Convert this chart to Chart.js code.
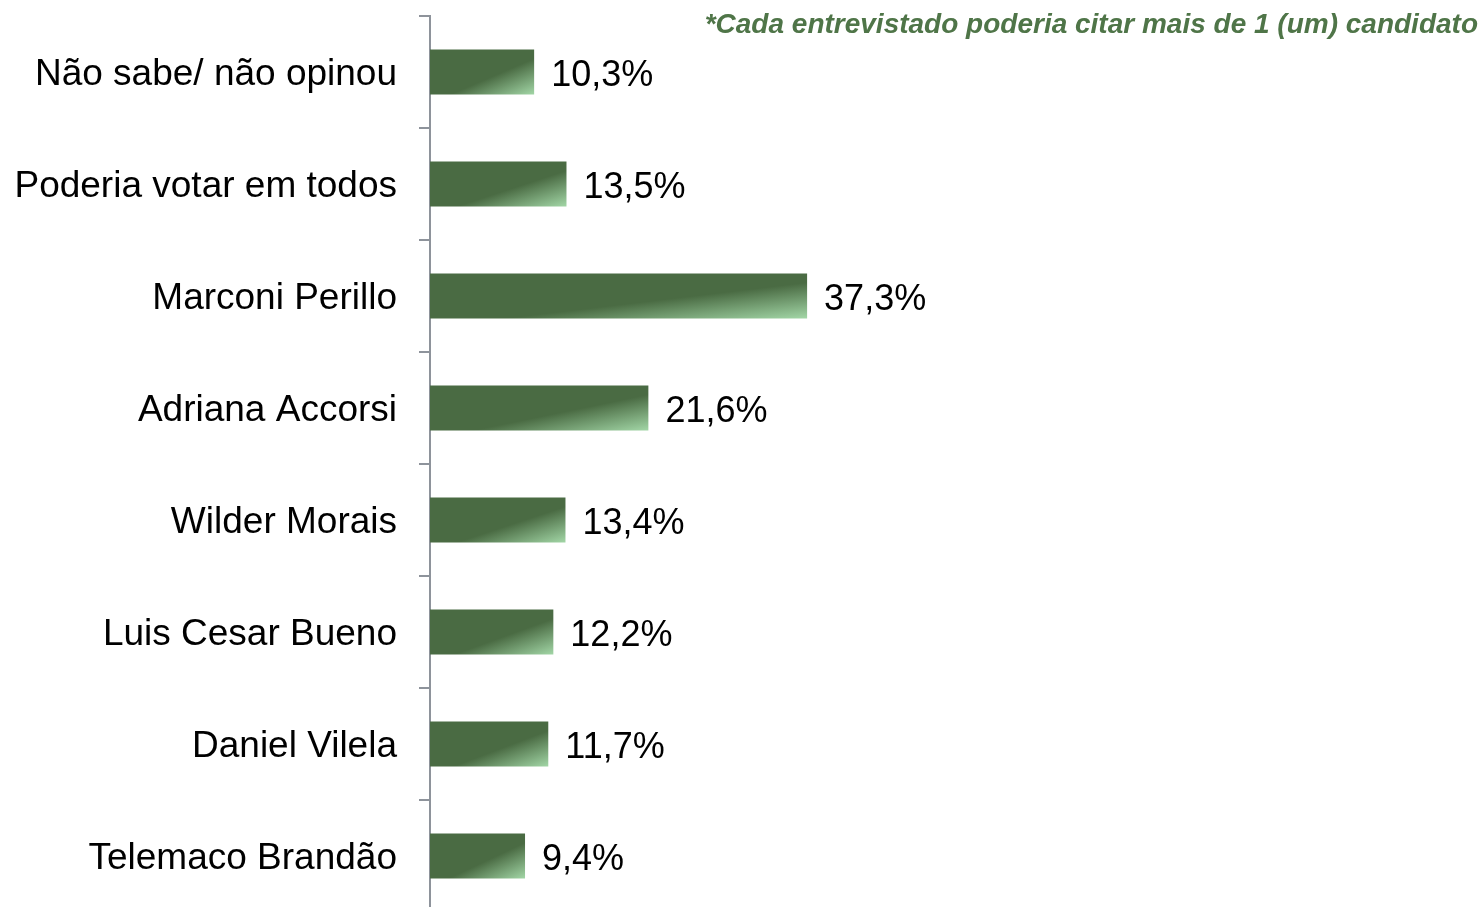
<!DOCTYPE html>
<html>
<head>
<meta charset="utf-8">
<script src="https://cdn.jsdelivr.net/npm/chart.js@4"></script>
<style>
  html, body { margin: 0; padding: 0; background: #fff; overflow: hidden; }
  #wrap { width: 1484px; height: 912px; position: relative; }
</style>
</head>
<body>
<div id="wrap"><canvas id="candChart"></canvas></div>
<script>
// Candidatos citados (%)
const categories = ['Não sabe/ não opinou', 'Poderia votar em todos', 'Marconi Perillo', 'Adriana Accorsi',
                    'Wilder Morais', 'Luis Cesar Bueno', 'Daniel Vilela', 'Telemaco Brandão'];
const values = [10.3, 13.5, 37.3, 21.6, 13.4, 12.2, 11.7, 9.4];
const valueLabels = ['10,3%', '13,5%', '37,3%', '21,6%', '13,4%', '12,2%', '11,7%', '9,4%'];
const note = '*Cada entrevistado poderia citar mais de 1 (um) candidato';

const FONT = '"Liberation Sans", Arial, sans-serif';
const BAR_PCT = 0.4;

// diagonal gradient, light corner bottom-right
function barFill(context) {
    const chart = context.chart;
    const xs = chart.scales.x, ys = chart.scales.y;
    if (!xs || !ys || !chart.chartArea) return '#4a6b43';
    const i = context.dataIndex;
    const left = xs.getPixelForValue(0), right = xs.getPixelForValue(values[i]);
    const cy = ys.getPixelForValue(i);
    const h = ys.height / categories.length * BAR_PCT;
    const w = right - left;
    if (!(w > 0) || !(h > 0)) return '#4a6b43';
    const L = Math.sqrt(w * w + h * h);
    const nx = h / L, ny = w / L, d = w * h / L;
    const cx = (left + right) / 2;
    const g = chart.ctx.createLinearGradient(cx - nx * d, cy - ny * d, cx + nx * d, cy + ny * d);
    g.addColorStop(0, '#4a6b43');
    g.addColorStop(0.6, '#4a6b43');
    g.addColorStop(1, '#a2d6a6');
    return g;
}

const valueLabelPlugin = {
    id: 'valueLabels',
    afterDatasetsDraw(chart) {
        const ctx = chart.ctx;
        ctx.save();
        ctx.font = '36px ' + FONT;
        ctx.fillStyle = '#000';
        ctx.textAlign = 'left';
        ctx.textBaseline = 'middle';
        chart.getDatasetMeta(0).data.forEach((bar, i) => {
            ctx.fillText(valueLabels[i], bar.x + 17, bar.y + 4);
        });
        ctx.restore();
    }
};

const notePlugin = {
    id: 'note',
    afterDraw(chart) {
        const ctx = chart.ctx;
        ctx.save();
        ctx.font = 'italic bold 28px ' + FONT;
        ctx.fillStyle = '#4f7548';
        ctx.textAlign = 'right';
        ctx.textBaseline = 'alphabetic';
        ctx.fillText(note, 1478, 33);
        ctx.restore();
    }
};

const ctx = document.getElementById('candChart').getContext('2d');
const candChart = new Chart(ctx, {
    type: 'bar',
    data: {
        labels: categories,
        datasets: [{
            data: values,
            backgroundColor: barFill,
            borderWidth: 0,
            barPercentage: BAR_PCT,
            categoryPercentage: 1.0
        }]
    },
    options: {
        indexAxis: 'y',
        responsive: true,
        maintainAspectRatio: false,
        animation: false,
        layout: { padding: { top: 16, right: 43, bottom: 0, left: 0 } },
        plugins: {
            legend: { display: false },
            tooltip: { enabled: false }
        },
        scales: {
            x: {
                display: false,
                min: 0,
                max: 100
            },
            y: {
                afterFit(scale) {
                    scale.width = 430;
                    scale.paddingTop = 0;
                    scale.paddingBottom = 0;
                },
                border: { display: true, color: '#8e939b', width: 2 },
                grid: {
                    offset: true,
                    drawOnChartArea: false,
                    drawTicks: true,
                    tickLength: 11,
                    color: '#8e939b',
                    lineWidth: 2
                },
                ticks: {
                    padding: 22,
                    labelOffset: 3,
                    color: '#000',
                    font: { family: FONT, size: 37 }
                }
            }
        }
    },
    plugins: [valueLabelPlugin, notePlugin]
});
</script>
</body>
</html>
